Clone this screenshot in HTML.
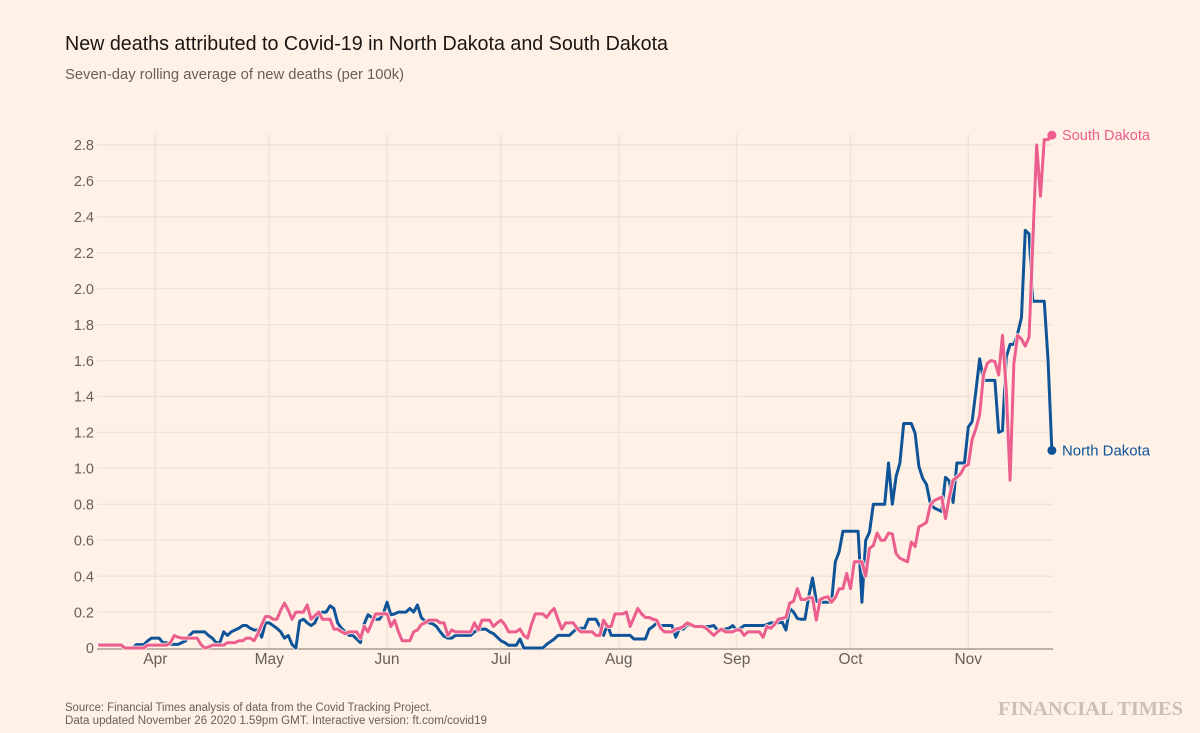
<!DOCTYPE html>
<html lang="en">
<head>
<meta charset="utf-8">
<title>New deaths attributed to Covid-19 in North Dakota and South Dakota</title>
<style>
html,body{margin:0;padding:0;background:#fff1e5;}
svg{display:block;font-family:"Liberation Sans",sans-serif;}
</style>
</head>
<body>
<svg id="chart" xmlns="http://www.w3.org/2000/svg" width="1200" height="733" viewBox="0 0 1200 733">
  <rect width="1200" height="733" fill="#fff1e5"/>
  <text x="65" y="50" font-size="20" fill="#1a1512" textLength="603" lengthAdjust="spacingAndGlyphs">New deaths attributed to Covid-19 in North Dakota and South Dakota</text>
  <text x="65" y="79" font-size="15" fill="#66605c" textLength="339" lengthAdjust="spacingAndGlyphs">Seven-day rolling average of new deaths (per 100k)</text>
  <g id="grid"></g>
  <g id="axes"></g>
  <g id="series"></g>
  <text x="65" y="711" font-size="11.5" fill="#66605c" textLength="367" lengthAdjust="spacingAndGlyphs">Source: Financial Times analysis of data from the Covid Tracking Project.</text>
  <text x="65" y="724" font-size="11.5" fill="#66605c" textLength="422" lengthAdjust="spacingAndGlyphs">Data updated November 26 2020 1.59pm GMT. Interactive version: ft.com/covid19</text>
  <text x="998" y="715" font-family="'Liberation Serif',serif" font-weight="bold" font-size="19.5" fill="#c9c1b9" textLength="185" lengthAdjust="spacingAndGlyphs">FINANCIAL TIMES</text>
</svg>
<script>
const firstDate = '2020-03-17';
const yTickValues = [0, 0.2, 0.4, 0.6, 0.8, 1.0, 1.2, 1.4, 1.6, 1.8, 2.0, 2.2, 2.4, 2.6, 2.8];
const yTickLabels = ['0', '0.2', '0.4', '0.6', '0.8', '1.0', '1.2', '1.4', '1.6', '1.8', '2.0', '2.2', '2.4', '2.6', '2.8'];
const monthDates = ['2020-04-01', '2020-05-01', '2020-06-01', '2020-07-01', '2020-08-01', '2020-09-01', '2020-10-01', '2020-11-01'];
const monthLabels = ['Apr', 'May', 'Jun', 'Jul', 'Aug', 'Sep', 'Oct', 'Nov'];
const northDakota = [
  .0187,.0187,.0187,.0187,.0187,.0187,.0187,0,0,0,
  .0187,.0187,.0187,.04,.055,.055,.055,.03,.03,.02,
  .02,.02,.03,.04,.07,.09,.09,.09,.09,.07,
  .055,.03,.03,.09,.07,.09,.1,.11,.125,.125,
  .11,.1,.1,.06,.14,.14,.125,.11,.09,.055,
  .07,.02,0,.15,.16,.14,.125,.14,.19,.2,
  .2,.235,.22,.14,.11,.09,.07,.07,.05,.03,
  .135,.185,.17,.16,.16,.19,.255,.185,.19,.2,
  .2,.2,.22,.2,.24,.17,.15,.14,.135,.12,
  .09,.065,.055,.055,.07,.07,.07,.07,.07,.09,
  .1,.105,.105,.09,.08,.06,.04,.03,.015,.015,
  .015,.05,0,0,0,0,0,0,.02,.035,
  .05,.07,.07,.07,.07,.09,.11,.11,.11,.16,
  .16,.16,.12,.07,.13,.07,.07,.07,.07,.07,
  .07,.05,.05,.05,.05,.105,.12,.14,.125,.125,
  .125,.125,.06,.11,.105,.13,.125,.12,.12,.12,
  .12,.12,.125,.1,.1,.105,.11,.125,.1,.11,
  .125,.125,.125,.125,.125,.125,.13,.14,.14,.14,
  .145,.1,.22,.2,.165,.16,.16,.285,.39,.26,
  .255,.255,.255,.255,.48,.535,.65,.65,.65,.65,
  .65,.255,.6,.645,.8,.8,.8,.8,1.03,.8,
  .955,1.03,1.25,1.25,1.25,1.195,1.01,.945,.91,.805,
  .78,.77,.76,.95,.93,.81,1.03,1.03,1.03,1.23,
  1.26,1.43,1.61,1.49,1.49,1.49,1.49,1.2,1.21,1.62,
  1.69,1.69,1.75,1.84,2.325,2.305,1.93,1.93,1.93,1.93,1.6,1.1
];
const southDakota = [
  .016,.016,.016,.016,.016,.016,.016,0,0,0,
  0,0,0,.016,.016,.016,.016,.016,.016,.03,
  .07,.06,.055,.055,.055,.055,.055,.02,0,.005,
  .016,.016,.016,.016,.03,.03,.03,.04,.04,.055,
  .055,.04,.08,.13,.175,.175,.16,.16,.21,.25,
  .21,.16,.2,.2,.2,.24,.16,.18,.2,.16,
  .16,.16,.105,.105,.09,.08,.09,.09,.09,.055,
  .12,.09,.14,.19,.19,.19,.19,.12,.155,.09,
  .04,.04,.04,.09,.1,.13,.14,.155,.155,.155,
  .14,.14,.07,.1,.09,.09,.09,.09,.09,.14,
  .1,.155,.155,.155,.12,.14,.155,.13,.09,.09,
  .09,.105,.07,.055,.13,.19,.19,.19,.17,.2,
  .22,.16,.105,.14,.14,.14,.11,.09,.09,.09,
  .09,.07,.07,.155,.12,.12,.19,.19,.19,.2,
  .12,.17,.22,.19,.17,.17,.16,.155,.11,.09,
  .09,.09,.105,.11,.12,.14,.13,.12,.12,.12,
  .11,.09,.07,.09,.105,.09,.09,.09,.1,.1,
  .07,.09,.09,.09,.09,.06,.12,.11,.13,.16,
  .165,.17,.25,.26,.33,.27,.27,.28,.28,.155,
  .27,.28,.285,.255,.28,.33,.33,.415,.33,.48,
  .48,.48,.4,.555,.57,.64,.6,.6,.64,.635,
  .525,.5,.49,.48,.59,.565,.675,.685,.7,.795,
  .82,.83,.84,.72,.84,.935,.95,.97,1.01,1.02,
  1.16,1.22,1.3,1.52,1.585,1.6,1.595,1.52,1.74,1.435,
  .935,1.585,1.74,1.72,1.68,1.73,2.27,2.8,2.515,2.83,2.83,2.855
];

const SVG_NS = 'http://www.w3.org/2000/svg';
const DAY_MS = 86400000;
const originMs = Date.parse('2020-04-01');
const startMs = Date.parse(firstDate);

function xByDate(ms) { return 155.3 + 3.799 * (ms - originMs) / DAY_MS; }
function xByIndex(i) { return xByDate(startMs + i * DAY_MS); }
function yScale(v) { return 648 - 179.64 * v; }

function make(tag, attrs, parent, text) {
  const el = document.createElementNS(SVG_NS, tag);
  for (const k in attrs) el.setAttribute(k, attrs[k]);
  if (text !== undefined) el.textContent = text;
  parent.appendChild(el);
  return el;
}

const gridG = document.getElementById('grid');
const axesG = document.getElementById('axes');
const seriesG = document.getElementById('series');
const plotLeft = 97;
const plotRight = 1053;
const plotTop = 134;

yTickValues.forEach(function (v, i) {
  if (v !== 0) {
    const gl = make('line', { x1: plotLeft, x2: plotRight, y1: yScale(v), y2: yScale(v), stroke: '#efe2d6', 'stroke-width': 1.4 }, gridG);
    
    
  }
  const t = make('text', { x: 94, y: yScale(v) + 5.2, 'text-anchor': 'end', 'font-size': 14.5, fill: '#66605c' }, axesG, yTickLabels[i]);
  
  
});

monthDates.forEach(function (d, i) {
  const x = xByDate(Date.parse(d));
  const gl = make('line', { x1: x, x2: x, y1: plotTop, y2: 648, stroke: '#efe2d6', 'stroke-width': 1.4 }, gridG);
  
  
  const t = make('text', { x: x, y: 664, 'text-anchor': 'middle', 'font-size': 15.5, fill: '#66605c' }, axesG, monthLabels[i]);
  
  
});

const baseline = make('line', { x1: plotLeft, x2: plotRight, y1: 649, y2: 649, stroke: '#a89e94', 'stroke-width': 1.5 }, axesG);



function linePoints(values) {
  return values.map(function (v, i) { return xByIndex(i).toFixed(2) + ',' + yScale(v).toFixed(2); }).join(' ');
}

const ndHalo = make('polyline', { points: linePoints(northDakota), fill: 'none', stroke: '#fff1e5', 'stroke-opacity': 0.8, 'stroke-width': 4.6, 'stroke-linejoin': 'round' }, seriesG);


const ndLine = make('polyline', { points: linePoints(northDakota), fill: 'none', stroke: '#0f5499', 'stroke-width': 3, 'stroke-linejoin': 'round' }, seriesG);


const sdHalo = make('polyline', { points: linePoints(southDakota), fill: 'none', stroke: '#fff1e5', 'stroke-opacity': 0.85, 'stroke-width': 4.8, 'stroke-linejoin': 'round' }, seriesG);


const sdLine = make('polyline', { points: linePoints(southDakota), fill: 'none', stroke: '#eb5e8d', 'stroke-width': 3, 'stroke-linejoin': 'round' }, seriesG);



const ndLast = northDakota.length - 1;
const sdLast = southDakota.length - 1;

const ndDot = make('circle', { cx: xByIndex(ndLast), cy: yScale(northDakota[ndLast]), r: 4.5, fill: '#0f5499' }, seriesG);


const sdDot = make('circle', { cx: xByIndex(sdLast), cy: yScale(southDakota[sdLast]), r: 4.5, fill: '#eb5e8d' }, seriesG);



const ndLabel = make('text', { x: 1062, y: yScale(northDakota[ndLast]) + 5, 'font-size': 15, fill: '#0f5499', textLength: 88, lengthAdjust: 'spacingAndGlyphs' }, seriesG, 'North Dakota');


const sdLabel = make('text', { x: 1062, y: yScale(southDakota[sdLast]) + 5, 'font-size': 15, fill: '#eb5e8d', textLength: 88, lengthAdjust: 'spacingAndGlyphs' }, seriesG, 'South Dakota');


</script>
</body>
</html>
